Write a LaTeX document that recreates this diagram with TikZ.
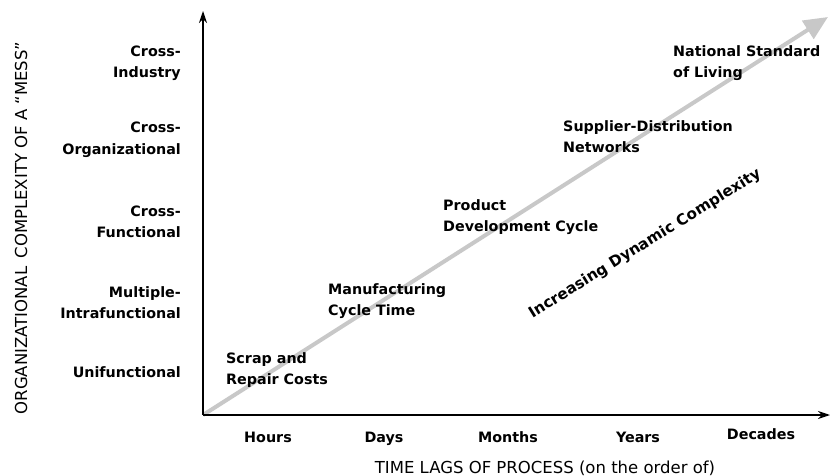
\documentclass[tikz,border=0pt]{standalone}
\usepackage{fontspec}
\setmainfont{DejaVu Sans}
\usetikzlibrary{arrows.meta}
\definecolor{arrowgray}{HTML}{C8C8C8}
\begin{document}
\begin{tikzpicture}[x=1pt,y=-1pt,
  lab/.style={font=\fontsize{14.3}{21}\selectfont\bfseries, inner sep=0pt},
  ylab/.style={lab, align=right, anchor=base east},
  xlab/.style={lab, anchor=base},
  plab/.style={lab, align=left, anchor=base west},
  title/.style={font=\fontsize{16.5}{18}\selectfont, inner sep=0pt},
  axis/.style={line width=1.2pt, -{Stealth[length=12pt,width=8pt]}},
  trend/.style={line width=4pt, arrowgray, -{Triangle[length=24pt,width=21pt]}}]
\useasboundingbox (0,0) rectangle (830,476);
\coordinate (O) at (203,415);
\coordinate (ytop) at (203,11);
\coordinate (xend) at (830,415);
\coordinate (tend) at (828,17);
\draw[trend] (O) -- (tend);
\draw[axis] (O) -- (ytop);
\draw[axis] (O) -- (xend);
% y labels (anchor = baseline of last line)
\node[ylab] (l1) at (181,78) {Cross-\\Industry};
\node[ylab] (l2) at (181,154) {Cross-\\Organizational};
\node[ylab] (l3) at (181,237) {Cross-\\Functional};
\node[ylab] (l4) at (181,318) {Multiple-\\Intrafunctional};
\node[ylab] (l5) at (181,377) {Unifunctional};
\node[title, rotate=90] (ytitle) at (21,228) {ORGANIZATIONAL\enspace COMPLEXITY OF A “MESS”};
% x labels
\node[xlab] (h) at (268,442) {Hours};
\node[xlab] (d) at (384,442) {Days};
\node[xlab] (m) at (508,442) {Months};
\node[xlab] (yr) at (638,442) {Years};
\node[xlab] (dc) at (761,439) {Decades};
\node[title, anchor=base] (xtitle) at (545,473) {TIME LAGS OF PROCESS (on the order of)};
% plot labels (anchor = baseline of last line)
\node[plab] (p1) at (226,384) {Scrap and\\Repair Costs};
\node[plab] (p2) at (328,315) {Manufacturing\\Cycle Time};
\node[plab] (p3) at (443,231) {Product\\Development Cycle};
\node[plab] (p4) at (563,153) {Supplier-Distribution\\Networks};
\node[plab] (p5) at (673,78) {National Standard\\of Living};
\node[lab, font=\fontsize{15.2}{17}\selectfont\bfseries, rotate=31.8] (inc) at (645,244) {Increasing Dynamic Complexity};
\end{tikzpicture}
\end{document}
